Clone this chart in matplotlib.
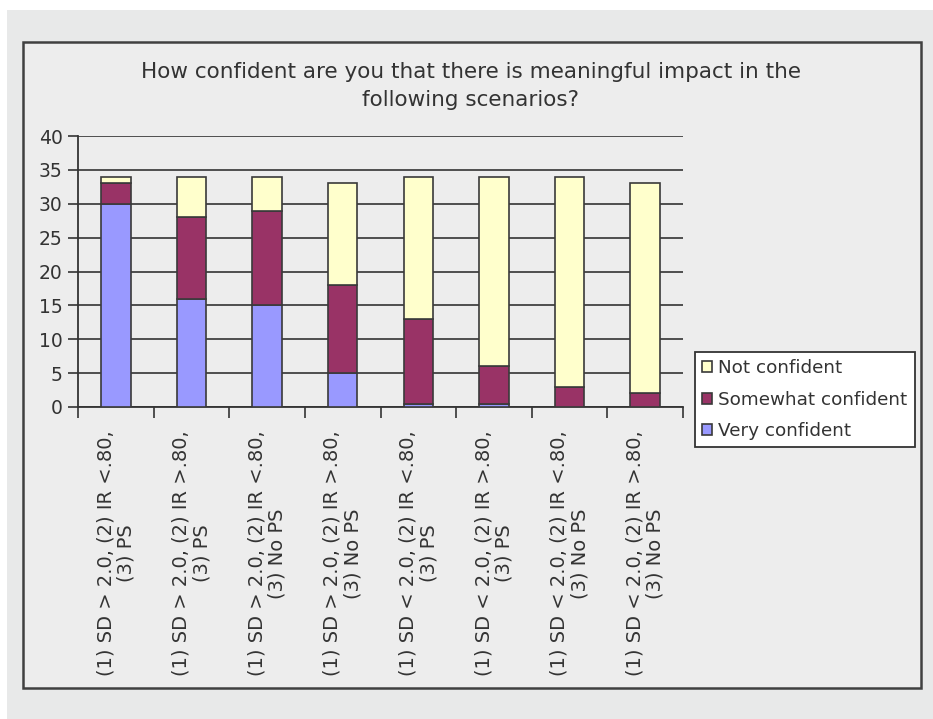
import matplotlib
matplotlib.use("Agg")
import matplotlib.pyplot as plt
from matplotlib.patches import Rectangle
import numpy as np

categories = [
    "(1) SD > 2.0, (2) IR <.80,\n(3) PS",
    "(1) SD > 2.0, (2) IR >.80,\n(3) PS",
    "(1) SD > 2.0, (2) IR <.80,\n(3) No PS",
    "(1) SD > 2.0, (2) IR >.80,\n(3) No PS",
    "(1) SD < 2.0, (2) IR <.80,\n(3) PS",
    "(1) SD < 2.0, (2) IR >.80,\n(3) PS",
    "(1) SD < 2.0, (2) IR <.80,\n(3) No PS",
    "(1) SD < 2.0, (2) IR >.80,\n(3) No PS",
]
very_confident = [30, 16, 15, 5, 0.5, 0.5, 0, 0]
somewhat_confident = [3, 12, 14, 13, 12.5, 5.5, 3, 2]
not_confident = [1, 6, 5, 15, 21, 28, 31, 31]
yticks = [0, 5, 10, 15, 20, 25, 30, 35, 40]
title = "How confident are you that there is meaningful impact in the\nfollowing scenarios?"

plt.rcParams['font.family'] = ['DejaVu Sans']
W, H = 933, 719
fig = plt.figure(figsize=(W/100, H/100), dpi=100, facecolor='white')

def fx(px): return px / W
def fy(py): return 1 - py / H

# outer background
fig.patches.append(Rectangle((fx(7), 0), 1 - fx(7), fy(10), transform=fig.transFigure,
                             facecolor='#e8e9e9', edgecolor='none', zorder=-3))
# chart frame
fig.patches.append(Rectangle((fx(23), fy(688)), fx(921) - fx(23), fy(42) - fy(688),
                             transform=fig.transFigure, facecolor='#ededed',
                             edgecolor='#404040', linewidth=1.8, zorder=-2))

ax = fig.add_axes([fx(78), fy(407), fx(683) - fx(78), fy(136) - fy(407)])
ax.set_facecolor('none')
x = np.arange(len(categories))
edge = '#3a3a3a'
w = 0.39
vc = np.array(very_confident, dtype=float)
sc = np.array(somewhat_confident, dtype=float)
nc = np.array(not_confident, dtype=float)
b1 = ax.bar(x, vc, w, color='#9999ff', edgecolor=edge, linewidth=1.2, label='Very confident', zorder=3)
b2 = ax.bar(x, sc, w, bottom=vc, color='#993366', edgecolor=edge, linewidth=1.2, label='Somewhat confident', zorder=3)
b3 = ax.bar(x, nc, w, bottom=vc + sc, color='#ffffcc', edgecolor=edge, linewidth=1.2, label='Not confident', zorder=3)

ax.set_xlim(-0.5, len(categories) - 0.5)
ax.set_ylim(0, 40)
ax.set_yticks(yticks)
ax.set_yticklabels([str(t) for t in yticks], fontsize=13.5, color='#333333')
ax.yaxis.grid(True, color='#333333', linewidth=1.2, zorder=0)
ax.set_axisbelow(True)
for s in ['top', 'right']:
    ax.spines[s].set_visible(False)
for s in ['left', 'bottom']:
    ax.spines[s].set_color('#333333')
    ax.spines[s].set_linewidth(1.3)
ax.tick_params(axis='y', direction='out', length=7, width=1.2, color='#333333', pad=4)

ax.set_xticks(np.arange(len(categories) + 1) - 0.5)
ax.set_xticklabels([])
ax.tick_params(axis='x', which='major', direction='out', length=8, width=1.2, color='#333333')
ax.set_xticks(x, minor=True)
ax.set_xticklabels(categories, minor=True, rotation=90, fontsize=14, color='#333333',
                   ha='center', va='top', multialignment='center', linespacing=1.1)
ax.tick_params(axis='x', which='minor', length=0, pad=17)

fig.text(fx(471), fy(86), title, ha='center', va='center', fontsize=15.5,
         color='#333333', linespacing=1.45)

leg = fig.legend(handles=[b3, b2, b1], labels=['Not confident', 'Somewhat confident', 'Very confident'],
                 loc='upper left', bbox_to_anchor=(fx(695), fy(352)), bbox_transform=fig.transFigure,
                 frameon=True, fancybox=False, fontsize=13.2, handlelength=0.55, handleheight=0.55,
                 handletextpad=0.3, borderpad=0.4, labelspacing=0.72, borderaxespad=0,
                 labelcolor='#333333')
leg.get_frame().set_edgecolor('#333333')
leg.get_frame().set_linewidth(1.3)
leg.get_frame().set_facecolor('white')
leg.get_frame().set_alpha(1)

fig.savefig('out.png', dpi=100, facecolor='white')
